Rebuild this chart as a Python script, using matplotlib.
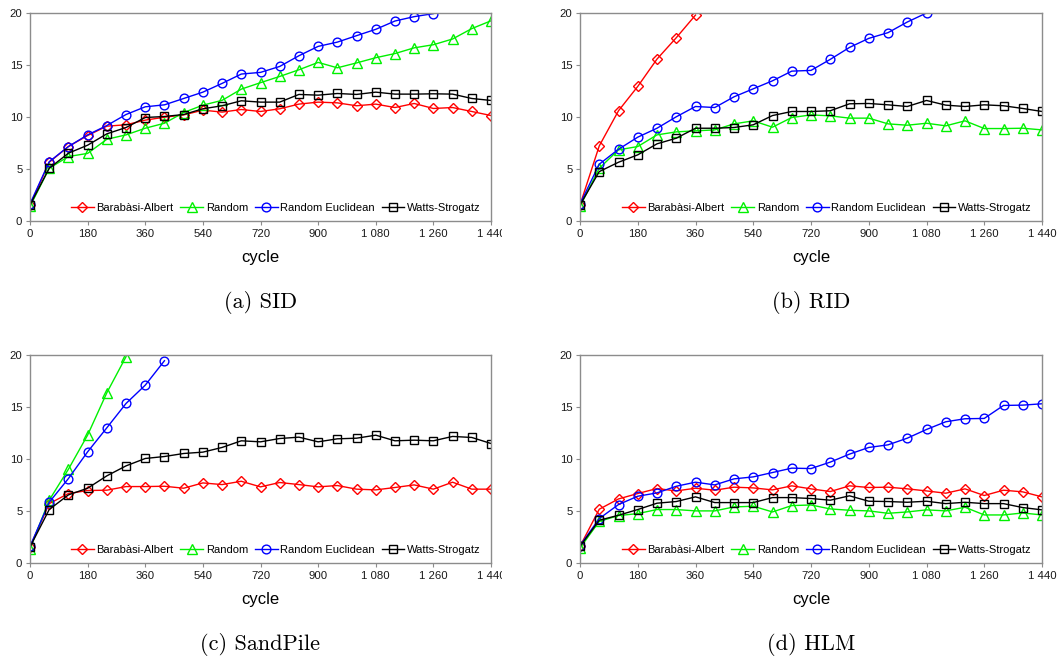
import matplotlib
matplotlib.use("Agg")
import matplotlib.pyplot as plt
import numpy as np
from matplotlib.transforms import Bbox, TransformedBbox

# cycle sampled every 60 steps
cycles = list(range(0, 1441, 60))

series_names = ["Barabàsi-Albert", "Random", "Random Euclidean", "Watts-Strogatz"]
series_colors = ["#ff0000", "#00f000", "#0000ff", "#000000"]
series_markers = ["D", "^", "o", "s"]

# (a) SID
sid_ba = [1.5, 5.65, 7.16, 8.22, 9.12, 9.25, 9.7, 9.98, 10.2, 10.66, 10.47, 10.72, 10.53,
          10.79, 11.24, 11.43, 11.36, 11.08, 11.24, 10.91, 11.3, 10.82, 10.91, 10.53, 10.14]
sid_rnd = [1.4, 5.07, 6.2, 6.5, 7.86, 8.28, 8.92, 9.4, 10.43, 11.14, 11.6, 12.68, 13.3,
           13.9, 14.54, 15.25, 14.73, 15.2, 15.7, 16.1, 16.65, 16.95, 17.5, 18.5, 19.25]
sid_reu = [1.64, 5.7, 7.16, 8.28, 9.18, 10.24, 10.98, 11.17, 11.78, 12.39, 13.23, 14.13,
           14.29, 14.86, 15.89, 16.79, 17.2, 17.82, 18.43, 19.23, 19.65, 19.94]
sid_ws = [1.54, 5.07, 6.52, 7.29, 8.38, 8.99, 9.95, 10.05, 10.24, 10.79, 11.08, 11.56, 11.43,
          11.43, 12.17, 12.1, 12.26, 12.17, 12.39, 12.2, 12.2, 12.23, 12.2, 11.78, 11.59]

# (b) RID
rid_ba = [1.54, 7.22, 10.6, 12.94, 15.57, 17.62, 19.8]
rid_rnd = [1.4, 5.07, 6.84, 7.16, 8.28, 8.57, 8.67, 8.76, 9.34, 9.63, 9.02, 9.95, 10.2,
           10.11, 9.89, 9.89, 9.34, 9.21, 9.4, 9.15, 9.63, 8.89, 8.89, 8.92, 8.76]
rid_reu = [1.64, 5.46, 6.9, 8.06, 8.92, 10.02, 11.01, 10.91, 11.94, 12.71, 13.48, 14.41,
           14.48, 15.54, 16.69, 17.56, 18.11, 19.13, 20.0]
rid_ws = [1.54, 4.75, 5.65, 6.36, 7.42, 7.96, 8.92, 8.92, 8.99, 9.25, 10.14, 10.53, 10.53,
          10.6, 11.27, 11.3, 11.17, 11.01, 11.59, 11.14, 11.01, 11.17, 11.08, 10.82, 10.53]

# (c) SandPile
sp_ba = [1.54, 5.71, 6.68, 6.97, 7.0, 7.35, 7.35, 7.38, 7.19, 7.7, 7.54, 7.86, 7.32,
         7.74, 7.54, 7.32, 7.45, 7.1, 7.03, 7.26, 7.51, 7.1, 7.77, 7.1, 7.1]
sp_rnd = [1.38, 6.04, 9.02, 12.3, 16.37, 19.84]
sp_reu = [1.6, 5.84, 8.12, 10.69, 13.0, 15.34, 17.1, 19.45]
sp_ws = [1.54, 5.14, 6.55, 7.19, 8.38, 9.34, 10.05, 10.24, 10.53, 10.66, 11.11, 11.75, 11.65,
         11.97, 12.1, 11.65, 11.94, 12.0, 12.29, 11.75, 11.81, 11.75, 12.17, 12.07, 11.49]

# (d) HLM
hlm_ba = [1.6, 5.17, 6.16, 6.68, 7.16, 6.93, 7.19, 7.0, 7.29, 7.22, 7.03, 7.42, 7.13,
          6.87, 7.42, 7.26, 7.29, 7.13, 6.93, 6.71, 7.13, 6.49, 7.0, 6.84, 6.36]
hlm_rnd = [1.44, 4.0, 4.56, 4.75, 5.14, 5.14, 5.01, 5.01, 5.39, 5.46, 4.91, 5.52, 5.58,
           5.2, 5.07, 5.01, 4.78, 4.91, 5.11, 5.01, 5.36, 4.62, 4.62, 4.81, 4.62]
hlm_reu = [1.67, 4.27, 5.62, 6.42, 6.74, 7.38, 7.77, 7.51, 8.09, 8.28, 8.7, 9.12, 9.08,
           9.7, 10.47, 11.11, 11.36, 12.0, 12.84, 13.58, 13.87, 13.9, 15.15, 15.18, 15.31]
hlm_ws = [1.6, 4.11, 4.59, 5.14, 5.75, 5.91, 6.36, 5.81, 5.81, 5.81, 6.29, 6.29, 6.2,
          6.04, 6.46, 5.94, 5.91, 5.84, 5.94, 5.71, 5.84, 5.71, 5.71, 5.33, 5.11]

panel_captions = ["(a) SID", "(b) RID", "(c) SandPile", "(d) HLM"]
panel_data = [
    [sid_ba, sid_rnd, sid_reu, sid_ws],
    [rid_ba, rid_rnd, rid_reu, rid_ws],
    [sp_ba, sp_rnd, sp_reu, sp_ws],
    [hlm_ba, hlm_rnd, hlm_reu, hlm_ws],
]

x_ticks = list(range(0, 1441, 180))
x_tick_labels = ["0", "180", "360", "540", "720", "900", "1 080", "1 260", "1 440"]
y_ticks = [0, 5, 10, 15, 20]

W, H = 1062, 661
fig = plt.figure(figsize=(W / 100, H / 100), dpi=100)

sans = ["Liberation Sans", "DejaVu Sans"]
grey = "#8c8c8c"

# axes boxes in pixels: left, top, right, bottom
boxes = [(30, 13, 491, 221), (580, 13, 1042, 221),
         (30, 355, 491, 563), (580, 355, 1042, 563)]

for idx, (box, data, caption) in enumerate(zip(boxes, panel_data, panel_captions)):
    l, t, r, b = box
    ax = fig.add_axes([l / W, 1 - b / H, (r - l) / W, (b - t) / H])
    for vals, name, col, mk in zip(data, series_names, series_colors, series_markers):
        ms = {"D": 5.4, "^": 6.7, "o": 6.3, "s": 5.8}[mk]
        ax.plot(cycles[:len(vals)], vals, color=col, marker=mk, markersize=ms,
                markerfacecolor="none", markeredgecolor=col, markeredgewidth=1.0,
                linewidth=1.0, label=name)
    ax.set_xlim(0, 1440)
    ax.set_ylim(0, 20)
    ax.set_xticks(x_ticks)
    ax.set_xticklabels(x_tick_labels, fontfamily=sans, fontsize=8.2)
    ax.set_yticks(y_ticks)
    ax.set_yticklabels([str(v) for v in y_ticks], fontfamily=sans, fontsize=8.2)
    ax.tick_params(axis="both", direction="out", length=3, width=0.8, color=grey,
                   labelcolor="#1a1a1a", pad=2.5)
    for sp in ax.spines.values():
        sp.set_color(grey)
        sp.set_linewidth(1.0)
    ax.set_xlabel("cycle", fontfamily=sans, fontsize=12, labelpad=8)
    leg = ax.legend(loc="center right", bbox_to_anchor=(0.978, 0.0625), ncol=4,
                    frameon=False, borderpad=0, borderaxespad=0, handlelength=2.05,
                    handletextpad=0.25, columnspacing=0.6,
                    prop={"family": sans, "size": 8})
    # caption under each panel
    fig.text((l + r) / 2 / W, 1 - (b + 81) / H, caption, ha="center", va="center",
             fontfamily="cmr10", fontsize=16)
    # left-column tick labels are cut at the panel's right edge
    if l < 500:
        clip = TransformedBbox(Bbox.from_extents(0, 0, 502 / W, 1), fig.transFigure)
        for lab in ax.get_xticklabels():
            lab.set_clip_box(clip)
            lab.set_clip_on(True)

fig.savefig("out.png", dpi=100)
